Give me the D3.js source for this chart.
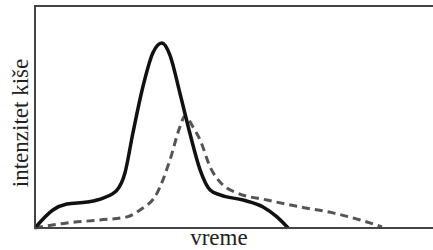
<!DOCTYPE html>
<html>
<head>
<meta charset="utf-8">
<script src="https://cdn.jsdelivr.net/npm/d3@7"></script>
<style>
  body { margin: 0; background: #fff; }
</style>
</head>
<body>
<svg width="433" height="250"></svg>
<script>
// rainfall intensity over time (arbitrary units)
var solidTime = [0, 4.5, 8, 13.1, 17.1, 20.6, 22.6, 24.6, 27.1, 29.6, 31.9, 33.9, 36.4, 38.9, 41.5, 44, 46.5, 52.3, 57.3, 60.8, 63.6];
var solidValue = [0, 8.1, 10.8, 11.7, 13.5, 17.1, 24.8, 42.8, 63.5, 78.8, 83.3, 77.9, 60.8, 42.8, 26.1, 17.1, 14.9, 12.6, 9.5, 5, 0];
var dashTime = [0, 8, 16.3, 23.1, 26.4, 30.7, 33.9, 36.4, 37.7, 39.7, 41.5, 44, 47.2, 50.8, 58.3, 66.6, 74.9, 81.7, 87.2];
var dashValue = [0, 2.3, 3.6, 5, 8.1, 15.8, 30.6, 45.5, 50.5, 45.5, 39.6, 27.5, 19.4, 15.8, 12.6, 9.5, 6.8, 3.6, 0.5];
var xLabel = "vreme";
var yLabel = "intenzitet kiše";

var svg = d3.select("svg"),
    margin = { top: 6, right: 0, bottom: 22, left: 35 },
    width = +svg.attr("width") - margin.left - margin.right,
    height = +svg.attr("height") - margin.top - margin.bottom;

var x = d3.scaleLinear().domain([0, 100]).range([0, width]);
var y = d3.scaleLinear().domain([0, 100]).range([height, 0]);

var g = svg.append("g").attr("transform", "translate(" + margin.left + "," + margin.top + ")");

var line = d3.line()
  .x(function (d) { return x(d[0]); })
  .y(function (d) { return y(d[1]); })
  .curve(d3.curveMonotoneX);

var solid = solidTime.map(function (t, i) { return [t, solidValue[i]]; });
var dashed = dashTime.map(function (t, i) { return [t, dashValue[i]]; });

g.append("path").datum(dashed)
  .attr("d", line)
  .attr("fill", "none")
  .attr("stroke", "#555")
  .attr("stroke-width", 3)
  .attr("stroke-dasharray", "8,5");

g.append("path").datum(solid)
  .attr("d", line)
  .attr("fill", "none")
  .attr("stroke", "#111")
  .attr("stroke-width", 3.5)
  .attr("stroke-linejoin", "round");

// frame: top, left and bottom only
g.append("path")
  .attr("d", "M" + width + ",0H0V" + height + "H" + width)
  .attr("fill", "none")
  .attr("stroke", "#444")
  .attr("stroke-width", 2);

svg.append("text")
  .attr("x", margin.left + x(46.2))
  .attr("y", 245)
  .attr("text-anchor", "middle")
  .attr("font-family", "Liberation Serif")
  .attr("font-size", 23)
  .attr("fill", "#222")
  .text(xLabel);

svg.append("text")
  .attr("transform", "translate(28," + (margin.top + height / 2 + 6) + ") rotate(-90)")
  .attr("text-anchor", "middle")
  .attr("font-family", "Liberation Serif")
  .attr("font-size", 23)
  .attr("fill", "#222")
  .text(yLabel);
</script>
</body>
</html>
